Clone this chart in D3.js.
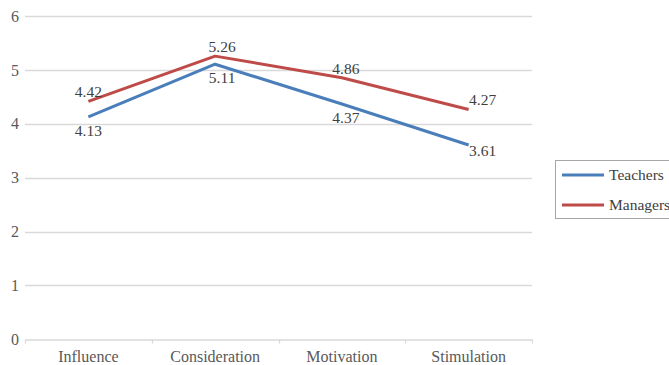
<!DOCTYPE html>
<html><head><meta charset="utf-8">
<script src="https://cdn.jsdelivr.net/npm/d3@7"></script>
<style>
html,body{margin:0;padding:0;background:#fff;overflow:hidden;}
svg text{font-family:"Liberation Serif","DejaVu Serif",serif;}
</style></head>
<body>
<svg id="chart" width="669" height="365"></svg>
<script>
const categories = ["Influence","Consideration","Motivation","Stimulation"];
const teachers = [4.13, 5.11, 4.37, 3.61];
const managers = [4.42, 5.26, 4.86, 4.27];
const seriesNames = ["Teachers","Managers"];
const yTicks = [0,1,2,3,4,5,6];

const colors = ["#4a7ebb","#be4b48"];
const labelDx = [0, 7, 4, 14];

const svg = d3.select("#chart");
const x = d3.scaleBand().domain(categories).range([25, 532]);
const y = d3.scaleLinear().domain([0,6]).range([339.3, 16.3]);

// gridlines
svg.append("g").selectAll("line").data(yTicks.filter(d=>d>0)).join("line")
  .attr("x1",25).attr("x2",532)
  .attr("y1",d=>Math.round(y(d))+0.5).attr("y2",d=>Math.round(y(d))+0.5)
  .attr("stroke","#d9d9d9").attr("stroke-width",1.3);

// y labels
svg.append("g").selectAll("text").data(yTicks).join("text")
  .attr("x",19).attr("y",d=>y(d)+5.5)
  .attr("text-anchor","end").attr("font-size",16).attr("fill","#595959")
  .text(d=>d);

// x axis
const xAxis = svg.append("g").attr("transform",`translate(0,${Math.round(y(0))+0.5})`)
  .call(d3.axisBottom(x).tickSize(0).tickPadding(11));
xAxis.select(".domain").attr("stroke","#d9d9d9").attr("stroke-width",1.3);
xAxis.selectAll("text").attr("font-size",16).attr("fill","#595959")
  .attr("font-family","Liberation Serif, DejaVu Serif, serif");
const bounds = categories.map(c=>x(c)).concat([x.range()[1]]);
xAxis.append("g").selectAll("line").data(bounds).join("line")
  .attr("x1",d=>Math.round(d)+0.5).attr("x2",d=>Math.round(d)+0.5)
  .attr("y1",0).attr("y2",4).attr("stroke","#d9d9d9").attr("stroke-width",1.3);

const cx = c => x(c) + x.bandwidth()/2;
const line = d3.line().x((d,i)=>cx(categories[i])).y(d=>y(d));

[teachers, managers].forEach((vals,si)=>{
  svg.append("path").datum(vals).attr("d",line)
    .attr("fill","none").attr("stroke",colors[si]).attr("stroke-width",3)
    .attr("stroke-linejoin","round");
});

// labels
svg.append("g").selectAll("text").data(managers).join("text")
  .attr("x",(d,i)=>cx(categories[i])+labelDx[i]).attr("y",(d,i)=>y(d)-4)
  .attr("text-anchor","middle").attr("font-size",15.5).attr("fill","#404040")
  .text(d=>d.toFixed(2));
svg.append("g").selectAll("text").data(teachers).join("text")
  .attr("x",(d,i)=>cx(categories[i])+labelDx[i]).attr("y",(d,i)=>y(d)+ (i===3?11:19))
  .attr("text-anchor","middle").attr("font-size",15.5).attr("fill","#404040")
  .text(d=>d.toFixed(2));

// legend
const lg = svg.append("g");
lg.append("rect").attr("x",555.5).attr("y",160.5).attr("width",130).attr("height",58)
  .attr("fill","#fff").attr("stroke","#a6a6a6").attr("stroke-width",1);
seriesNames.forEach((n,i)=>{
  const yy = 175 + i*30;
  lg.append("line").attr("x1",562).attr("x2",604).attr("y1",yy).attr("y2",yy)
    .attr("stroke",colors[i]).attr("stroke-width",3);
  lg.append("text").attr("x",609).attr("y",yy+4.5).attr("font-size",15.5).attr("fill","#404040").text(n);
});
</script>
</body></html>
